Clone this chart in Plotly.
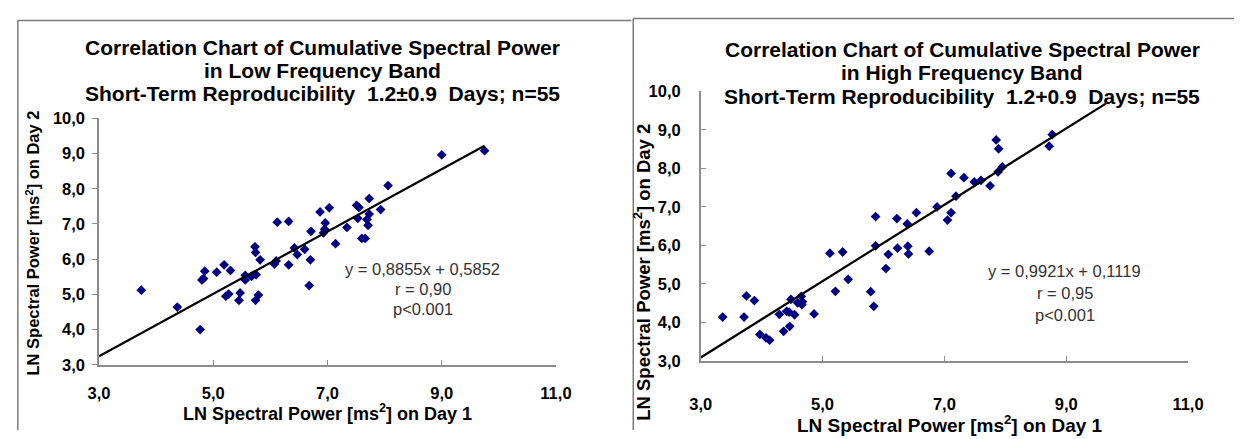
import plotly.graph_objects as go

W, H = 1250, 439

# ---------------- data ----------------
lf_day1 = [3.74, 4.37, 4.77, 4.80, 4.83, 4.85, 5.06, 5.19, 5.30, 5.22, 5.27, 5.47, 5.45,
           5.56, 5.56, 5.67, 5.75, 5.74, 5.79, 5.73, 5.74, 5.82, 6.07, 6.10, 6.32, 6.47,
           6.60, 6.42, 6.70, 6.68, 6.12, 6.32, 6.87, 7.03, 6.96, 6.71, 6.93, 7.34, 7.14,
           7.51, 7.55, 7.53, 7.60, 7.66, 7.73, 7.93, 7.73, 7.69, 7.71, 8.06, 9.00, 9.75,
           6.95]
lf_day2 = [5.12, 4.64, 4.00, 5.41, 5.45, 5.66, 5.63, 5.84, 5.68, 4.95, 5.01, 5.04, 4.83,
           5.54, 5.41, 5.51, 5.56, 4.83, 4.98, 6.35, 6.19, 5.98, 5.86, 5.95, 5.84, 6.13,
           6.28, 6.32, 5.98, 5.25, 7.05, 7.07, 7.34, 7.46, 7.03, 6.79, 6.75, 6.90, 6.44,
           7.53, 7.47, 7.16, 6.59, 6.59, 7.72, 7.41, 7.28, 7.13, 6.96, 8.09, 8.96, 9.08,
           6.85]
lf_slope, lf_icpt = 0.8855, 0.5852
lf_line_x = [3.0, 9.75]

hf_day1 = [3.36, 3.71, 3.75, 3.88, 3.97, 4.07, 4.13, 4.29, 4.36, 4.41, 4.45, 4.46, 4.48,
           4.54, 4.59, 4.65, 4.66, 4.67, 4.86, 5.12, 5.33, 5.21, 5.42, 5.79, 5.84, 5.87,
           5.87, 6.04, 6.08, 6.22, 6.23, 6.39, 6.40, 6.41, 6.54, 6.75, 6.88, 7.05, 7.11,
           7.11, 7.19, 7.32, 7.49, 7.60, 7.75, 7.88, 7.95, 7.85, 7.89, 8.72, 8.77]
hf_day2 = [4.14, 4.14, 4.69, 4.57, 3.69, 3.60, 3.54, 4.21, 3.77, 4.29, 4.27, 3.90, 4.60,
           4.20, 4.51, 4.68, 4.46, 4.54, 4.22, 5.80, 5.83, 4.81, 5.12, 4.80, 4.42, 5.99,
           6.75, 5.40, 5.77, 6.70, 5.93, 6.56, 5.98, 5.78, 6.85, 5.85, 7.00, 6.66, 6.85,
           7.87, 7.28, 7.76, 7.65, 7.69, 7.55, 7.91, 8.04, 8.74, 8.51, 8.58, 8.88]
hf_slope, hf_icpt = 0.9921, 0.1119
hf_line_x = [3.0, 9.65]

x_ticks = [3, 5, 7, 9, 11]
x_ticktext = ["3,0", "5,0", "7,0", "9,0", "11,0"]
y_ticks = [3, 4, 5, 6, 7, 8, 9, 10]
y_ticktext = ["3,0", "4,0", "5,0", "6,0", "7,0", "8,0", "9,0", "10,0"]

lf_title = ["Correlation Chart of Cumulative Spectral Power",
            "in Low Frequency Band",
            "Short-Term Reproducibility  1.2±0.9  Days; n=55"]
hf_title = ["Correlation Chart of Cumulative Spectral Power",
            "in High Frequency Band",
            "Short-Term Reproducibility  1.2+0.9  Days; n=55"]
lf_stats = ["y = 0,8855x + 0,5852", "r = 0,90", "p<0.001"]
hf_stats = ["y = 0,9921x + 0,1119", "r = 0,95", "p<0.001"]
x_title = "LN Spectral Power [ms<sup>2</sup>] on Day 1"
y_title = "LN Spectral Power [ms<sup>2</sup>] on Day 2"

FONT = "Arial, Liberation Sans, sans-serif"
NAVY = "#000080"

def px(x):
    return x / W

def py(y):
    return 1 - y / H

fig = go.Figure()

# left panel
fig.add_trace(go.Scatter(x=lf_day1, y=lf_day2, mode="markers", xaxis="x", yaxis="y",
                         marker=dict(symbol="diamond", size=7.5, color=NAVY), showlegend=False))
fig.add_trace(go.Scatter(x=lf_line_x, y=[lf_slope * v + lf_icpt for v in lf_line_x], mode="lines",
                         xaxis="x", yaxis="y", line=dict(color="black", width=2.2), showlegend=False))
# right panel
fig.add_trace(go.Scatter(x=hf_day1, y=hf_day2, mode="markers", xaxis="x2", yaxis="y2",
                         marker=dict(symbol="diamond", size=7.5, color=NAVY), showlegend=False))
fig.add_trace(go.Scatter(x=hf_line_x, y=[hf_slope * v + hf_icpt for v in hf_line_x], mode="lines",
                         xaxis="x2", yaxis="y2", line=dict(color="black", width=2.2), showlegend=False))

tickfont = dict(family=FONT, size=16.5, color="black", weight="bold")
AX = "#8c8c8c"

def xaxis(domain, anchor, standoff):
    return dict(domain=domain, anchor=anchor, range=[3, 11], tickvals=x_ticks, ticktext=x_ticktext,
                showgrid=False, zeroline=False, showline=True, linecolor=AX, linewidth=1.5,
                ticks="inside", ticklen=5, tickcolor=AX, tickwidth=1, tickfont=tickfont,
                ticklabelstandoff=standoff, fixedrange=True)

def yaxis(domain, anchor, ticks, standoff):
    return dict(domain=domain, anchor=anchor, range=[3, 10], tickvals=y_ticks, ticktext=y_ticktext,
                showgrid=False, zeroline=False, showline=True, linecolor=AX, linewidth=1.5,
                ticks=ticks, ticklen=5, tickcolor=AX, tickwidth=1, tickfont=tickfont,
                ticklabelstandoff=standoff, fixedrange=True)

fig.update_layout(
    width=W, height=H, margin=dict(l=0, r=0, t=0, b=0),
    paper_bgcolor="white", plot_bgcolor="white", showlegend=False,
    xaxis=xaxis([px(90), px(557)], "y", 13),
    yaxis=yaxis([py(371), py(114)], "x", "outside", 4),
    xaxis2=xaxis([px(705), px(1203)], "y2", 27),
    yaxis2=yaxis([py(367), py(86)], "x2", "inside", 15),
)

ann = []
titlefont = dict(family=FONT, size=21, color="black", weight="bold")
for txt, yy in zip(lf_title, [40, 64, 88]):
    ann.append(dict(text=txt, x=px(318), y=py(yy), xref="paper", yref="paper",
                    showarrow=False, font=titlefont, xanchor="center", yanchor="middle"))
for txt, yy in zip(hf_title, [42, 66, 91]):
    ann.append(dict(text=txt, x=px(972), y=py(yy), xref="paper", yref="paper",
                    showarrow=False, font=titlefont, xanchor="center", yanchor="middle"))
statfont = dict(family=FONT, size=16.5, color="#333333")
for txt, yy in zip(lf_stats, [271, 292, 313]):
    ann.append(dict(text=txt, x=px(421), y=py(yy), xref="paper", yref="paper",
                    showarrow=False, font=statfont, xanchor="center", yanchor="middle"))
for txt, yy in zip(hf_stats, [273, 296, 319]):
    ann.append(dict(text=txt, x=px(1077), y=py(yy), xref="paper", yref="paper",
                    showarrow=False, font=statfont, xanchor="center", yanchor="middle"))
axfont = dict(family=FONT, size=18, color="black", weight="bold")
axfont_y = dict(family=FONT, size=16.5, color="black", weight="bold")
axfont2 = dict(family=FONT, size=19, color="black", weight="bold")
axfont2_y = dict(family=FONT, size=18.5, color="black", weight="bold")
ann.append(dict(text=x_title, x=px(323), y=py(421), xref="paper", yref="paper",
                showarrow=False, font=axfont, xanchor="center", yanchor="middle"))
ann.append(dict(text=x_title, x=px(960), y=py(433), xref="paper", yref="paper",
                showarrow=False, font=axfont2, xanchor="center", yanchor="middle"))
ann.append(dict(text=y_title, x=px(22), y=py(244), xref="paper", yref="paper", textangle=-90,
                showarrow=False, font=axfont_y, xanchor="center", yanchor="middle"))
ann.append(dict(text=y_title, x=px(645), y=py(275), xref="paper", yref="paper", textangle=-90,
                showarrow=False, font=axfont2_y, xanchor="center", yanchor="middle"))
fig.update_layout(annotations=ann)

# panel frames
BORDER = "#7a7a7a"
shapes = [
    dict(type="line", xref="paper", yref="paper", x0=px(7), x1=px(7), y0=py(12), y1=py(439),
         line=dict(color=BORDER, width=1.5)),
    dict(type="line", xref="paper", yref="paper", x0=px(7), x1=px(634), y0=py(12), y1=py(12),
         line=dict(color=BORDER, width=1.5)),
    dict(type="line", xref="paper", yref="paper", x0=px(636), x1=px(636), y0=py(10), y1=py(439),
         line=dict(color=BORDER, width=1.5)),
    dict(type="line", xref="paper", yref="paper", x0=px(636), x1=px(1250), y0=py(10), y1=py(10),
         line=dict(color=BORDER, width=1.5)),
]
fig.update_layout(shapes=shapes)

fig.write_html("out.html")
